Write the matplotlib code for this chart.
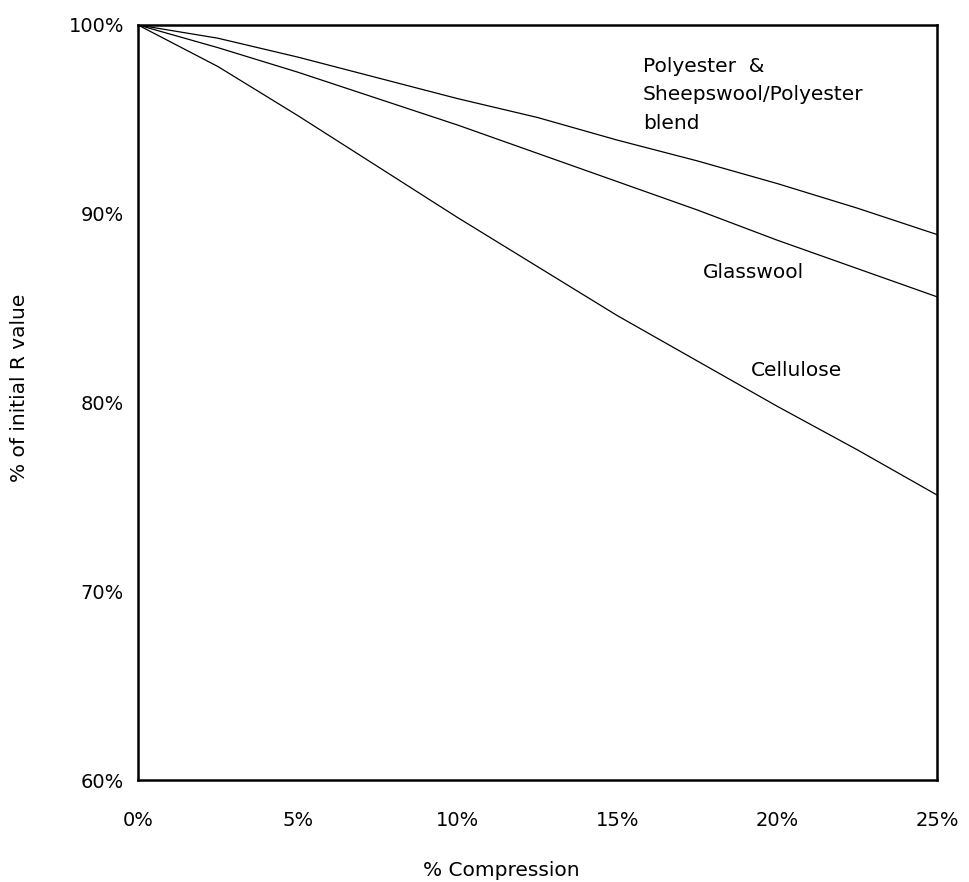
import matplotlib
matplotlib.use('Agg')
import matplotlib.pyplot as plt

# % compression
compression = [0, 2.5, 5, 7.5, 10, 12.5, 15, 17.5, 20, 22.5, 25]

# % of initial R value
polyester = [100, 99.3, 98.3, 97.2, 96.1, 95.1, 93.9, 92.8, 91.6, 90.3, 88.9]
glasswool = [100, 98.8, 97.5, 96.1, 94.7, 93.2, 91.7, 90.2, 88.6, 87.1, 85.6]
cellulose = [100, 97.8, 95.2, 92.5, 89.8, 87.2, 84.6, 82.2, 79.8, 77.5, 75.1]

x_ticks = [0, 5, 10, 15, 20, 25]
y_ticks = [60, 70, 80, 90, 100]

plt.rcParams['font.family'] = 'DejaVu Sans'

fig = plt.figure(figsize=(9.69, 8.82), dpi=100)
ax = fig.add_axes([138/969, 1-780/882, (937-138)/969, (780-25)/882])

ax.plot(compression, polyester, color='black', lw=0.9)
ax.plot(compression, glasswool, color='black', lw=0.9)
ax.plot(compression, cellulose, color='black', lw=0.9)

ax.set_xlim(0, 25)
ax.set_ylim(60, 100)
ax.set_xticks(x_ticks)
ax.set_xticklabels([f'{t}%' for t in x_ticks])
ax.set_yticks(y_ticks)
ax.set_yticklabels([f'{t}%' for t in y_ticks])
ax.tick_params(length=0, labelsize=14)
ax.tick_params(axis='x', pad=22)
ax.tick_params(axis='y', pad=10)
for s in ax.spines.values():
    s.set_linewidth(1.8)

ax.text(15.8, 96.3, 'Polyester  &\nSheepswool/Polyester\nblend', fontsize=14.5,
        va='center', ha='left', linespacing=1.65)
ax.text(17.68, 86.9, 'Glasswool', fontsize=14.5, va='center', ha='left')
ax.text(19.18, 81.7, 'Cellulose', fontsize=14.5, va='center', ha='left')

fig.text(501/969, 1-870/882, '% Compression', fontsize=14.5, ha='center', va='center')
fig.text(20/969, 1-388/882, '% of initial R value', fontsize=14.5, ha='center',
         va='center', rotation=90)

fig.savefig('out.png', dpi=100)
